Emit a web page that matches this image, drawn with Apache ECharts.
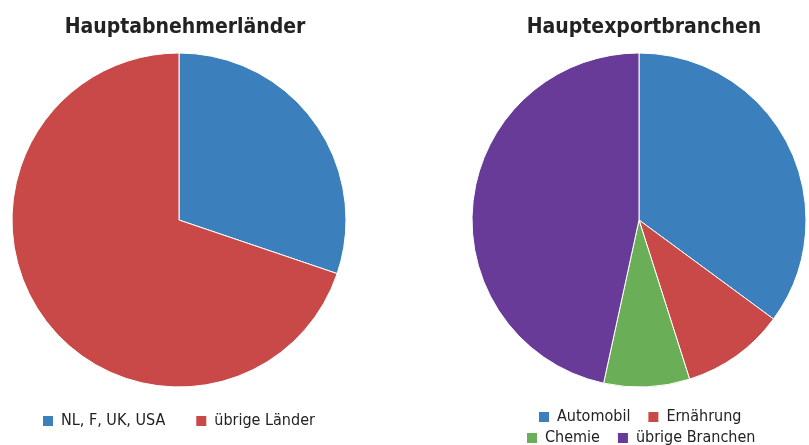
<!DOCTYPE html>
<html><head><meta charset="utf-8">
<script src="https://cdn.jsdelivr.net/npm/echarts@6/dist/echarts.min.js"></script>
<style>html,body{margin:0;padding:0;background:#fff}#c{width:809px;height:445px}</style>
</head><body><div id="c"></div>
<script>
const titleLeft = 'Hauptabnehmerländer';
const titleRight = 'Hauptexportbranchen';
const leftCats = ['NL, F, UK, USA', 'übrige Länder'];
const leftVals = [30.2, 69.8];
const rightCats = ['Automobil', 'Ernährung', 'Chemie', 'übrige Branchen'];
const rightVals = [35.1, 10.0, 8.3, 46.6];
const leftColors = ['#3b80bc', '#c84947'];
const rightColors = ['#3b80bc', '#c84947', '#6aae58', '#673b97'];

const font = '"DejaVu Sans Condensed", "Open Sans", sans-serif';
const legText = {fontFamily: font, fontSize: 16, color: '#222', padding: [0, 0, 0, 3]};
const chart = echarts.init(document.getElementById('c'), null, {renderer: 'canvas'});
chart.setOption({
  animation: false,
  title: [
    {text: titleLeft, left: 180, top: 12, textAlign: 'center',
     textStyle: {fontFamily: font, fontSize: 21, fontWeight: 'bold', color: '#222'}},
    {text: titleRight, left: 639, top: 12, textAlign: 'center',
     textStyle: {fontFamily: font, fontSize: 21, fontWeight: 'bold', color: '#222'}}
  ],
  legend: [
    {data: leftCats, left: 43, top: 413, padding: 0, itemWidth: 10, itemHeight: 10, itemGap: 31,
     icon: 'rect', itemStyle: {borderWidth: 0}, textStyle: legText},
    {data: rightCats.slice(0, 2), left: 539, top: 409, padding: 0, itemWidth: 10, itemHeight: 10, itemGap: 18,
     icon: 'rect', itemStyle: {borderWidth: 0}, textStyle: legText},
    {data: rightCats.slice(2), left: 527, top: 430, padding: 0, itemWidth: 10, itemHeight: 10, itemGap: 18,
     icon: 'rect', itemStyle: {borderWidth: 0}, textStyle: legText}
  ],
  series: [
    {type: 'pie', center: [179, 220], radius: [0, 167], startAngle: 90, clockwise: true,
     label: {show: false}, labelLine: {show: false},
     itemStyle: {borderColor: '#fff', borderWidth: 1},
     data: leftCats.map((n, i) => ({name: n, value: leftVals[i], itemStyle: {color: leftColors[i]}}))},
    {type: 'pie', center: [639, 220], radius: [0, 167], startAngle: 90, clockwise: true,
     label: {show: false}, labelLine: {show: false},
     itemStyle: {borderColor: '#fff', borderWidth: 1},
     data: rightCats.map((n, i) => ({name: n, value: rightVals[i], itemStyle: {color: rightColors[i]}}))}
  ]
});
</script></body></html>
